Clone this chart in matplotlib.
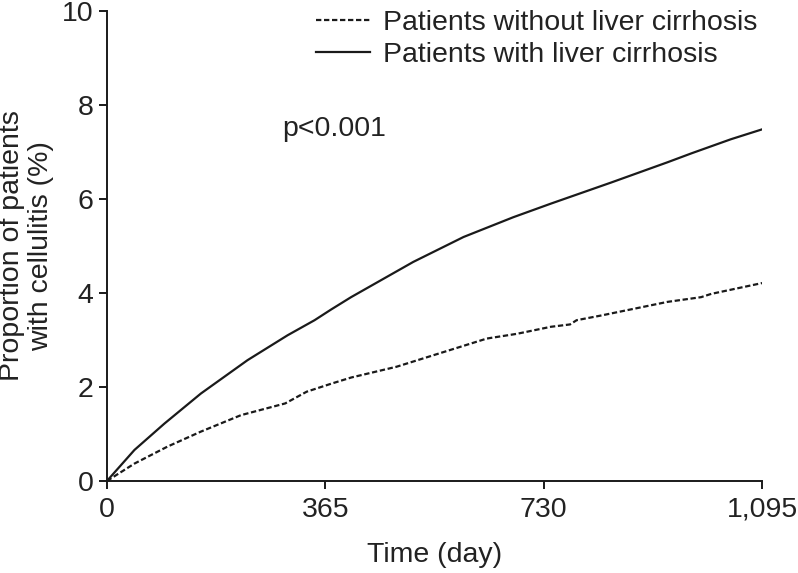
import numpy as np
import matplotlib.pyplot as plt

plt.rcParams['font.family'] = ['Liberation Sans', 'DejaVu Sans']

# cumulative incidence (day, %)
days_lc = [0, 46, 96, 157, 235, 302, 347, 375, 408, 512, 596, 679, 742, 843, 937, 977, 1043, 1095]
pct_lc = [0, 0.66, 1.22, 1.86, 2.57, 3.10, 3.42, 3.65, 3.91, 4.66, 5.19, 5.61, 5.90, 6.35, 6.78, 6.97, 7.27, 7.48]

days_nolc = [0, 46, 101, 157, 224, 298, 334, 375, 408, 484, 635, 685, 742, 774, 785, 826, 937, 993, 1010, 1095]
pct_nolc = [0, 0.37, 0.73, 1.05, 1.40, 1.65, 1.90, 2.07, 2.20, 2.43, 3.03, 3.13, 3.28, 3.33, 3.42, 3.52, 3.81, 3.91, 3.98, 4.21]

x_ticks = [0, 365, 730, 1095]
x_labels = ['0', '365', '730', '1,095']
y_ticks = [0, 2, 4, 6, 8, 10]

fig = plt.figure(figsize=(7.98, 5.73), dpi=100)
ax = fig.add_axes([0.134, 0.1606, 0.821, 0.8204])

ax.plot(days_nolc, pct_nolc, color='#1a1a1a', lw=1.6, linestyle=(0, (2.4, 1.2)),
        label='Patients without liver cirrhosis')
ax.plot(days_lc, pct_lc, color='#1a1a1a', lw=1.6, label='Patients with liver cirrhosis')

ax.set_xlim(0, 1095)
ax.set_ylim(0, 10)
ax.set_xticks(x_ticks)
ax.set_xticklabels(x_labels)
ax.set_yticks(y_ticks)

for side in ['top', 'right']:
    ax.spines[side].set_visible(False)
for side in ['left', 'bottom']:
    ax.spines[side].set_linewidth(1.4)
    ax.spines[side].set_color('#1a1a1a')

ax.tick_params(axis='both', direction='out', length=5.5, width=1.4, colors='#1a1a1a',
               labelsize=20.5, labelcolor='#222222')
ax.tick_params(axis='x', pad=6)
ax.tick_params(axis='y', pad=4)

ax.set_xlabel('Time (day)', fontsize=20.5, color='#222222', labelpad=14)
ax.set_ylabel('Proportion of patients\nwith cellulitis (%)', fontsize=20.5,
              color='#222222', labelpad=6, linespacing=1.15)

ax.text(0.268, 0.734, 'p<0.001', transform=ax.transAxes, fontsize=20.5, color='#222222')

leg = ax.legend(loc='upper left', bbox_to_anchor=(0.302, 1.026), frameon=False,
                fontsize=20.5, handlelength=1.9, handletextpad=0.45,
                labelspacing=0.2, borderaxespad=0)
for t in leg.get_texts():
    t.set_color('#222222')

fig.savefig('out.png', dpi=100)
